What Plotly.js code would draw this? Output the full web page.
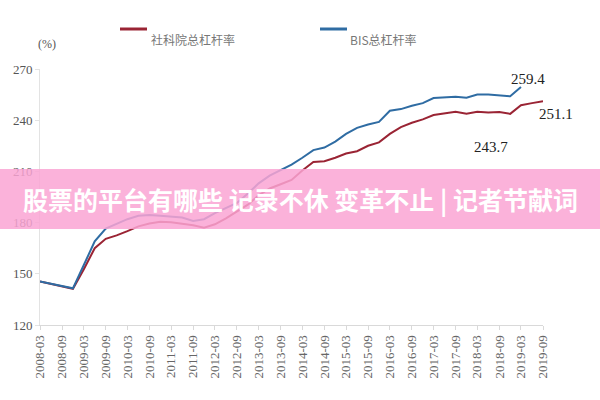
<!DOCTYPE html>
<html>
<head>
<meta charset="utf-8">
<script src="https://cdn.plot.ly/plotly-3.0.1.min.js"></script>
<style>html,body{margin:0;padding:0;background:#fff}#chart{width:600px;height:400px}</style>
</head>
<body>
<div id="chart"></div>
<script>
// Quarter-end dates (month shown as YYYY-MM)
const datesCass = ['2008-03','2008-12','2009-03','2009-06','2009-09','2009-12','2010-03','2010-06','2010-09','2010-12',
  '2011-03','2011-06','2011-09','2011-12','2012-03','2012-06','2012-09','2012-12','2013-03','2013-06','2013-09','2013-12',
  '2014-03','2014-06','2014-09','2014-12','2015-03','2015-06','2015-09','2015-12','2016-03','2016-06','2016-09','2016-12',
  '2017-03','2017-06','2017-09','2017-12','2018-03','2018-06','2018-09','2018-12','2019-03','2019-06','2019-09'];
const cassValues = [145.5,141.2,152.5,165,170.5,172.5,175,177.8,179.5,180.5,
  180.2,179.5,178.5,177,179,182.5,186.5,190.5,196,200,202.5,205,
  210.5,215.5,216,218,220.5,221.8,225,227,232,236,238.5,240.5,
  243,244,245,243.8,245,244.5,244.8,243.7,248.8,250,251.1];

const datesBis = ['2008-03','2008-12','2009-03','2009-06','2009-09','2009-12','2010-03','2010-06','2010-09','2010-12',
  '2011-03','2011-06','2011-09','2011-12','2012-03','2012-06','2012-09','2012-12','2013-03','2013-06','2013-09','2013-12',
  '2014-03','2014-06','2014-09','2014-12','2015-03','2015-06','2015-09','2015-12','2016-03','2016-06','2016-09','2016-12',
  '2017-03','2017-06','2017-09','2017-12','2018-03','2018-06','2018-09','2018-12','2019-03'];
const bisValues = [145.5,141.5,155,169,176.5,179.5,182,184,184.5,184,
  183.5,183,181,182,185.5,188.5,191.5,197,203,207.5,211,214,
  218,222.5,224,227.5,232,235.5,237.5,239,245.5,246.5,248.5,250,
  253,253.5,253.8,253.2,255,255,254.6,254,259.4];

const seriesNames = ['社科院总杠杆率','BIS总杠杆率'];
const seriesColors = ['#9A2434','#2F6CA3'];
const endLabels = ['259.4','251.1','243.7'];
const overlayText = '股票的平台有哪些 记录不休 变革不止 | 记者节献词';

const toDate = d => d + '-01';

const traces = [
  {x: datesCass.map(toDate), y: cassValues, name: seriesNames[0], type: 'scatter', mode: 'lines',
   line: {color: seriesColors[0], width: 2}},
  {x: datesBis.map(toDate), y: bisValues, name: seriesNames[1], type: 'scatter', mode: 'lines',
   line: {color: seriesColors[1], width: 2}}
];

// pixel -> paper helpers (plot area: x 40..543, y 69..325)
const px = v => (v - 40) / 503;
const py = v => (325 - v) / 256;

const serif = 'Liberation Serif, Times New Roman, serif';
const legendFont = {family: 'Noto Sans CJK SC', size: 12, color: '#777'};
const layout = {
  width: 600, height: 400,
  margin: {l: 40, r: 57, t: 69, b: 75},
  paper_bgcolor: '#fff', plot_bgcolor: '#fff',
  showlegend: false,
  xaxis: {type: 'date', range: ['2008-03-01','2019-09-01'], tick0: '2008-03-01', dtick: 'M6',
    tickformat: '%Y-%m', tickangle: -90, showgrid: false, zeroline: false,
    showline: true, linecolor: '#d9d9d9', linewidth: 1,
    ticks: 'outside', ticklen: 4, tickcolor: '#d9d9d9',
    tickfont: {family: serif, size: 13, color: '#666'}},
  yaxis: {range: [120, 270], tick0: 120, dtick: 30, showgrid: false, zeroline: false,
    showline: true, linecolor: '#e3e3e3', linewidth: 1,
    ticks: 'outside', ticklen: 4, tickcolor: '#e3e3e3',
    tickfont: {family: serif, size: 13, color: '#555'}},
  shapes: [
    {type: 'line', xref: 'paper', yref: 'paper', x0: px(120), x1: px(147), y0: py(29), y1: py(29),
     line: {color: seriesColors[0], width: 3}},
    {type: 'line', xref: 'paper', yref: 'paper', x0: px(320), x1: px(347), y0: py(29), y1: py(29),
     line: {color: seriesColors[1], width: 3}},
    {type: 'rect', xref: 'paper', yref: 'paper', x0: -0.1, x1: 1.2,
     y0: py(229), y1: py(169), layer: 'above', line: {width: 0},
     fillcolor: 'rgb(250,165,212)', opacity: 0.85}
  ],
  annotations: [
    {text: seriesNames[0], xref: 'paper', yref: 'paper', x: px(149), y: py(29), xanchor: 'left',
     showarrow: false, font: legendFont},
    {text: seriesNames[1], xref: 'paper', yref: 'paper', x: px(348), y: py(29), xanchor: 'left',
     showarrow: false, font: legendFont},
    {text: '(%)', xref: 'paper', yref: 'paper', x: px(36), y: py(35), showarrow: false,
     font: {family: serif, size: 12, color: '#555'}},
    {text: endLabels[0], xref: 'paper', yref: 'paper', x: px(547), y: py(69), showarrow: false,
     font: {family: serif, size: 15, color: '#222'}},
    {text: endLabels[1], xref: 'paper', yref: 'paper', x: px(575), y: py(104), showarrow: false,
     font: {family: serif, size: 15, color: '#222'}},
    {text: endLabels[2], xref: 'paper', yref: 'paper', x: px(510), y: py(137), showarrow: false,
     font: {family: serif, size: 15, color: '#222'}},
    {text: '<b>' + overlayText + '</b>', xref: 'paper', yref: 'paper', x: px(300), y: py(199),
     showarrow: false, font: {family: 'Noto Sans CJK SC', size: 25, color: '#fff'}}
  ]
};

Plotly.newPlot('chart', traces, layout, {displayModeBar: false, staticPlot: true});
</script>
</body>
</html>
